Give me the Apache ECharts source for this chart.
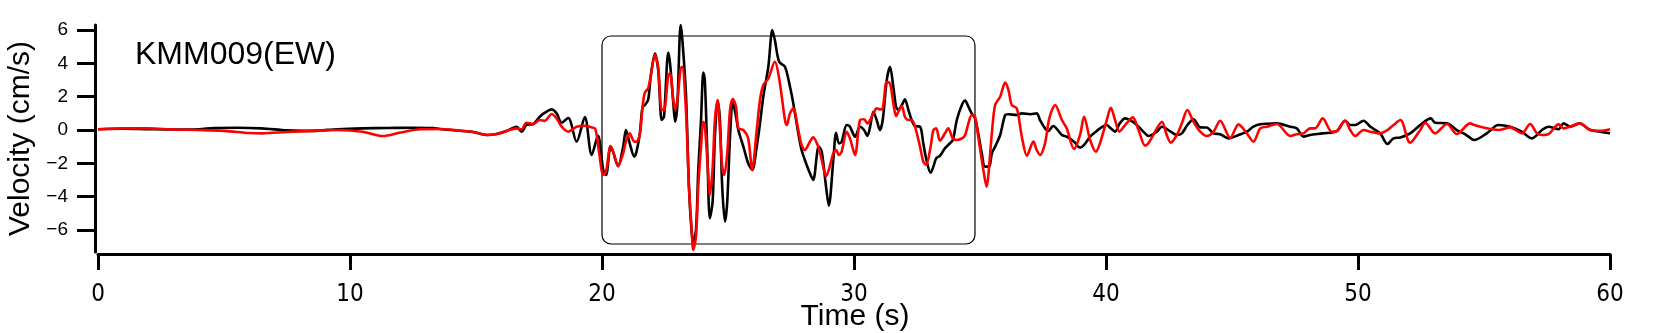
<!DOCTYPE html>
<html>
<head>
<meta charset="utf-8">
<title>KMM009(EW)</title>
<script src="https://cdn.jsdelivr.net/npm/echarts@6/dist/echarts.min.js"></script>
<style>
	html,body{margin:0;padding:0;background:#fff;}
	#chart{width:1660px;height:333px;}
</style>
</head>
<body>
<div id="chart"></div>
<script>
//観測記録 (黒) [時間(s), 速度(cm/s)]
var obsEW = [
	[0,0.05],[1,0.08],[2,0.05],[3,0.03],[4,0.05],[4.6,0.12],[5.5,0.14],[6.5,0.1],[7.5,-0.02],[8.5,-0.05],
	[9.5,0.05],[10.5,0.1],[11.5,0.12],[12.5,0.14],[13.3,0.12],[13.56,0.06],[14.36,-0.04],[14.89,-0.12],[15.42,-0.3],[15.82,-0.24],
	[16.21,-0.06],[16.61,0.2],[16.81,-0.1],[17.0,0.3],[17.27,0.36],[17.53,0.8],[17.73,1.04],[18.0,1.24],[18.2,1.0],[18.4,0.44],
	[18.66,0.72],[18.99,-0.7],[19.32,0.78],[19.59,-1.5],[19.84,-0.35],[20.05,-2.4],[20.16,-2.7],[20.34,-1.0],[20.44,-1.3],[20.64,-2.17],
	[20.84,-1.0],[20.95,0.0],[21.1,-0.8],[21.28,-1.6],[21.37,-1.3],[21.5,-0.2],[21.61,1.4],[21.7,1.5],[21.83,1.8],[21.94,3.3],
	[22.1,4.6],[22.23,3.6],[22.37,0.6],[22.46,0.8],[22.63,4.66],[22.7,4.0],[22.83,1.6],[22.9,0.5],[22.99,1.5],[23.12,6.3],
	[23.18,5.6],[23.33,2.2],[23.45,-3.4],[23.56,-6.2],[23.62,-6.7],[23.73,-6.0],[23.82,-2.4],[23.93,0.6],[24.02,3.45],[24.08,3.0],
	[24.18,-1.4],[24.28,-5.3],[24.39,-4.3],[24.48,-0.4],[24.59,1.7],[24.68,0.6],[24.77,-3.4],[24.88,-5.5],[24.97,-4.3],[25.08,-0.4],
	[25.19,1.7],[25.32,0.8],[25.41,0.0],[25.61,-1.0],[25.8,-2.0],[25.96,-2.4],[26.14,-1.0],[26.27,0.4],[26.4,2.0],[26.6,3.8],
	[26.76,6.0],[26.86,5.4],[27.03,4.1],[27.26,3.8],[27.46,2.6],[27.59,1.6],[27.79,-0.2],[27.92,-1.2],[28.05,-1.8],[28.25,-2.6],
	[28.38,-3.0],[28.6,-1.0],[28.72,-1.3],[28.89,-3.4],[29.0,-4.55],[29.18,-1.8],[29.29,-0.16],[29.4,-0.8],[29.51,-0.7],[29.71,0.3],
	[29.84,0.2],[30.04,-0.4],[30.24,0.2],[30.4,0.0],[30.53,-0.36],[30.64,0.2],[30.77,1.1],[30.9,0.6],[31.03,0.0],[31.14,0.6],
	[31.3,3.0],[31.43,3.8],[31.56,2.6],[31.67,1.4],[31.76,1.2],[31.9,1.5],[32.02,1.84],[32.16,1.2],[32.29,0.6],[32.42,0.24],
	[32.62,0.2],[32.75,-0.8],[32.86,-1.7],[33.04,-2.57],[33.15,-2.2],[33.26,-1.7],[33.41,-1.55],[33.61,-1.1],[33.74,-0.9],[33.92,-0.6],
	[34.08,0.6],[34.28,1.5],[34.41,1.77],[34.54,1.4],[34.67,1.0],[34.8,0.7],[34.93,-0.2],[35.07,-1.4],[35.2,-2.2],[35.36,-2.2],
	[35.47,-1.4],[35.6,-1.0],[35.8,-0.3],[36.0,0.9],[36.13,0.95],[36.46,0.9],[36.66,1.0],[37.0,0.95],[37.25,1.0],[37.38,0.6],
	[37.58,0.1],[37.71,-0.06],[37.9,0.24],[38.25,-0.3],[38.44,-0.4],[38.73,-0.7],[38.97,-1.06],[39.13,-0.9],[39.37,-0.4],[39.6,-0.1],
	[39.76,0.1],[40.03,0.3],[40.19,0.1],[40.36,-0.1],[40.53,0.36],[40.76,0.7],[41.06,0.5],[41.29,0.2],[41.55,-0.2],[41.68,-0.36],
	[42.02,-0.1],[42.22,0.2],[42.57,-0.1],[42.81,-0.3],[43.01,-0.2],[43.23,0.3],[43.47,0.64],[43.74,0.16],[44.0,0.15],[44.27,-0.2],
	[44.53,-0.25],[44.86,-0.5],[45.26,-0.3],[45.59,-0.1],[45.85,0.2],[46.12,0.34],[46.38,0.38],[46.78,0.4],[47.31,0.2],[47.57,0.1],
	[47.84,-0.4],[48.1,-0.3],[48.6,-0.2],[49.16,-0.06],[49.49,0.56],[49.69,0.3],[49.89,0.3],[50.22,0.56],[50.49,0.2],[50.88,-0.2],
	[51.17,-0.84],[51.41,-0.5],[51.68,-0.45],[52.07,-0.2],[52.47,0.3],[52.89,0.7],[53.06,0.44],[53.53,0.4],[53.92,0],[54.3,-0.3],
	[54.61,-0.6],[55.11,-0.2],[55.57,0.3],[56.04,0.2],[56.5,-0.1],[56.9,-0.5],[57.3,0.0],[57.56,0.2],[57.96,0.05],[58.16,0.4],
	[58.42,0.2],[58.79,0.4],[59.22,0],[59.61,-0.1],[60,-0.2]
];
//計算波形 (赤)
var synEW = [
	[0,0.05],[1,0.1],[2,0.1],[3,0.03],[4,0.0],[5,-0.05],[6,-0.18],[6.5,-0.2],[7.5,-0.12],[8.5,-0.05],
	[9.5,0.0],[10.5,-0.1],[11.3,-0.36],[12.0,-0.15],[12.8,0.05],[13.56,0.06],[14.36,-0.04],[14.89,-0.12],[15.42,-0.3],[15.82,-0.24],
	[16.21,-0.06],[16.61,0.1],[16.81,0.04],[17.0,0.44],[17.27,0.36],[17.53,0.6],[17.73,0.55],[18.0,0.96],[18.2,0.7],[18.4,0.2],
	[18.66,-0.1],[18.99,0.2],[19.32,0.26],[19.6,0.15],[19.72,0.1],[19.79,-0.3],[19.89,-1.4],[20.05,-2.7],[20.16,-2.5],[20.34,-0.96],
	[20.44,-1.3],[20.64,-2.17],[20.84,-1.4],[20.95,-0.7],[21.1,-0.2],[21.28,-0.7],[21.37,-0.7],[21.5,-0.3],[21.61,1.4],[21.7,2.25],
	[21.83,2.5],[21.94,3.3],[22.1,4.5],[22.23,3.8],[22.37,1.2],[22.46,1.2],[22.63,3.3],[22.7,3.4],[22.83,1.8],[22.9,1.24],
	[22.99,1.8],[23.12,3.7],[23.18,3.8],[23.33,1.2],[23.45,-3.4],[23.56,-6.0],[23.62,-7.2],[23.73,-6.4],[23.82,-3.4],[23.93,-1.0],
	[24.02,0.5],[24.08,0.3],[24.18,-1.8],[24.28,-3.9],[24.39,-2.3],[24.48,0.6],[24.59,1.8],[24.68,0.0],[24.77,-2.2],[24.85,-2.7],
	[24.97,-1.4],[25.08,1.2],[25.19,1.86],[25.32,1.4],[25.41,0.1],[25.61,0.0],[25.8,-0.5],[25.96,-2.4],[26.14,0.0],[26.27,1.8],
	[26.4,2.7],[26.6,3.1],[26.86,4.1],[27.03,3.1],[27.26,0.6],[27.33,0.3],[27.46,1.0],[27.59,1.3],[27.79,0.0],[27.92,-0.9],
	[28.05,-1.2],[28.25,-0.7],[28.38,-0.44],[28.58,-1.0],[28.72,-1.8],[28.89,-2.77],[29.0,-2.4],[29.18,-1.4],[29.29,-1.2],[29.4,-1.5],
	[29.51,-1.3],[29.71,-0.1],[29.84,-0.5],[30.04,-1.5],[30.24,0.6],[30.4,0.65],[30.53,0.4],[30.64,0.6],[30.77,1.0],[30.9,1.3],
	[31.03,1.24],[31.14,1.3],[31.3,2.9],[31.43,2.8],[31.56,1.6],[31.67,0.84],[31.76,1.1],[31.9,1.44],[32.02,0.8],[32.16,0.6],
	[32.29,0.6],[32.42,0.2],[32.62,-1.0],[32.75,-1.9],[32.86,-2.1],[33.04,-1.0],[33.15,0.0],[33.26,0.1],[33.41,-0.64],[33.61,-0.2],
	[33.74,0.1],[33.92,-0.5],[34.08,-0.6],[34.28,-0.5],[34.41,-0.3],[34.54,0.4],[34.67,0.9],[34.8,0.8],[34.93,-0.4],[35.07,-1.8],
	[35.2,-3.0],[35.27,-3.4],[35.36,-2.2],[35.47,-0.2],[35.6,1.5],[35.8,2.0],[36.0,2.85],[36.13,2.4],[36.26,1.5],[36.46,1.3],
	[36.66,-0.4],[36.86,-1.55],[37.12,-0.7],[37.25,-1.2],[37.38,-1.5],[37.58,-0.8],[37.75,0.7],[37.98,1.5],[38.25,0.6],[38.44,0.1],
	[38.73,-1.14],[38.97,-0.3],[39.13,0.8],[39.37,-0.6],[39.6,-1.3],[39.76,-0.8],[40.03,0.6],[40.19,1.34],[40.36,0.6],[40.53,-0.1],
	[40.76,0.3],[41.06,0.76],[41.29,0.0],[41.55,-0.94],[41.68,-0.8],[42.02,0.1],[42.22,0.5],[42.41,-0.3],[42.57,-0.76],[42.81,-0.3],
	[43.01,0.4],[43.23,1.2],[43.47,0.5],[43.74,-0.1],[44.0,-0.36],[44.27,-0.1],[44.53,0.56],[44.93,-0.47],[45.26,0.34],[45.59,-0.2],
	[45.85,-0.7],[46.12,0.1],[46.38,0.2],[46.78,0.36],[47.31,-0.36],[47.57,-0.25],[47.84,-0.2],[48.1,0.1],[48.3,0.1],[48.6,0.7],
	[48.96,-0.1],[49.16,-0.06],[49.49,0.56],[49.69,0.0],[49.89,-0.36],[50.22,0.0],[50.49,-0.1],[50.88,-0.2],[51.17,0.0],[51.41,0.3],
	[51.68,0.6],[52.07,-0.76],[52.47,0.0],[52.67,0.44],[53.06,-0.2],[53.53,0.36],[53.92,-0.24],[54.45,0.4],[54.61,0.3],[55.11,0.1],
	[55.57,0.0],[56.04,0.16],[56.5,-0.2],[56.83,0.36],[57.1,-0.2],[57.3,-0.3],[57.56,-0.25],[57.96,0.34],[58.16,0.1],[58.42,0.2],
	[58.79,0.4],[59.22,0.0],[59.61,-0.05],[60,0.05]
];
//目盛り
var xTicks = [0, 10, 20, 30, 40, 50, 60];
var yTicks = [-6, -4, -2, 0, 2, 4, 6];
//囲み枠 [開始s, 終了s, 上, 下]
var boxRange = [20, 34.8, 5.65, -6.85];

var myChart = echarts.init(document.getElementById('chart'));
var fontName = "'Liberation Sans', Arial, sans-serif";
var narrowFont = "'Liberation Sans Narrow', 'DejaVu Sans Condensed', 'Liberation Sans', sans-serif";

function minusLabel(v){
	return v < 0 ? '\u2212' + Math.abs(v) : String(v);
}

var option = {
	backgroundColor: '#fff',
	animation: false,
	textStyle: { fontFamily: fontName, color: '#000' },
	grid: { left: 98, right: 50, top: 25, bottom: 81, containLabel: false, outerBoundsMode: 'none' },
	xAxis: {
		type: 'value',
		min: 0, max: 60,
		offset: 2,
		axisLine: { onZero: false, lineStyle: { color: '#000', width: 3 } },
		axisTick: { length: 16, lineStyle: { color: '#000', width: 3 }, customValues: xTicks },
		axisLabel: { margin: 29, fontSize: 24, color: '#000', fontFamily: narrowFont, customValues: xTicks },
		splitLine: { show: false }
	},
	yAxis: {
		type: 'value',
		min: -7.33, max: 6.31,
		offset: 3,
		name: 'Velocity (cm/s)',
		nameLocation: 'middle',
		nameGap: 62,
		nameTextStyle: { fontSize: 30, color: '#000', fontFamily: fontName, verticalAlign: 'middle' },
		axisLine: { show: true, onZero: false, lineStyle: { color: '#000', width: 3 } },
		axisTick: { length: 18, lineStyle: { color: '#000', width: 3 }, customValues: yTicks },
		axisLabel: { margin: 27, fontSize: 19, color: '#000', fontFamily: fontName, customValues: yTicks, formatter: minusLabel },
		splitLine: { show: false }
	},
	graphic: [
		{
			type: 'text',
			left: 135, top: 39,
			style: { text: 'KMM009(EW)', fontSize: 32, fill: '#000', fontFamily: fontName }
		},
		{
			//横軸タイトル
			type: 'text',
			x: 855, y: 317,
			style: { text: 'Time (s)', fontSize: 30, fill: '#000', fontFamily: fontName, align: 'center', verticalAlign: 'middle' }
		}
	],
	series: [
		{
			name: 'box',
			type: 'custom',
			silent: true,
			z: 1,
			data: [boxRange],
			renderItem: function(params, api){
				var p1 = api.coord([api.value(0), api.value(2)]);
				var p2 = api.coord([api.value(1), api.value(3)]);
				return {
					type: 'rect',
					shape: { x: p1[0], y: p1[1], width: p2[0] - p1[0], height: p2[1] - p1[1], r: 9 },
					style: { fill: 'none', stroke: '#000', lineWidth: 1.2 }
				};
			}
		},
		{
			name: 'obs',
			type: 'line',
			data: obsEW,
			showSymbol: false,
			smooth: 0.3,
			z: 2,
			lineStyle: { color: '#000', width: 2.6 }
		},
		{
			name: 'syn',
			type: 'line',
			data: synEW,
			showSymbol: false,
			smooth: 0.3,
			z: 3,
			lineStyle: { color: '#ff0000', width: 2.6 }
		}
	]
};
myChart.setOption(option);
</script>
</body>
</html>
